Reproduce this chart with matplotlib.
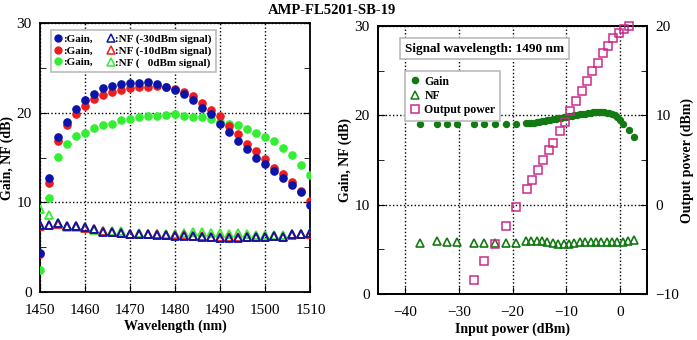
import matplotlib
matplotlib.use("Agg")
import matplotlib.pyplot as plt
from matplotlib.lines import Line2D

plt.rcParams['font.family'] = ['Liberation Serif', 'DejaVu Serif']

# wavelength sweep (nm)
wavelength = [1450, 1452, 1454, 1456, 1458, 1460, 1462, 1464, 1466, 1468, 1470,
              1472, 1474, 1476, 1478, 1480, 1482, 1484, 1486, 1488, 1490,
              1492, 1494, 1496, 1498, 1500, 1502, 1504, 1506, 1508, 1510]

gain_m30 = [4.3, 12.7, 17.3, 19.0, 20.4, 21.4, 22.1, 22.8, 23.0, 23.2, 23.3,
            23.3, 23.4, 23.2, 22.9, 22.6, 22.1, 21.4, 20.6, 19.9, 18.8,
            17.9, 16.9, 16.0, 15.0, 14.3, 13.5, 12.7, 11.9, 11.1, 9.7]
gain_m10 = [4.2, 12.2, 16.8, 18.6, 19.9, 20.8, 21.5, 22.0, 22.3, 22.6, 22.8,
            22.9, 22.9, 23.0, 22.9, 22.7, 22.3, 21.9, 21.1, 20.3, 19.6,
            18.5, 17.6, 16.5, 15.7, 14.8, 13.8, 13.2, 12.3, 11.3, 10.1]
gain_0 = [2.4, 10.5, 15.1, 16.5, 17.4, 17.8, 18.3, 18.6, 18.8, 19.2, 19.3,
          19.5, 19.6, 19.7, 19.8, 19.9, 19.7, 19.5, 19.5, 19.3, 19.0,
          18.8, 18.6, 18.2, 17.7, 17.3, 16.8, 16.1, 15.3, 14.2, 13.1]

nf_m30 = [7.5, 7.5, 7.7, 7.3, 7.3, 7.2, 7.0, 6.7, 6.7, 6.6, 6.4,
          6.5, 6.4, 6.3, 6.3, 6.2, 6.2, 6.2, 6.1, 6.1, 6.0,
          6.0, 6.0, 6.1, 6.1, 6.1, 6.2, 6.1, 6.4, 6.5, 6.6]
nf_m10 = [7.4, 7.5, 7.6, 7.3, 7.3, 7.1, 7.0, 6.8, 6.7, 6.6, 6.5,
          6.5, 6.4, 6.4, 6.3, 6.3, 6.3, 6.2, 6.2, 6.1, 6.1,
          6.1, 6.1, 6.1, 6.1, 6.1, 6.2, 6.1, 6.3, 6.4, 6.5]
nf_0 = [9.2, 8.6, 7.7, 7.2, 7.2, 7.1, 6.9, 6.8, 6.8, 6.8, 6.5,
        6.6, 6.5, 6.4, 6.5, 6.5, 6.6, 6.7, 6.7, 6.6, 6.6,
        6.5, 6.6, 6.5, 6.3, 6.3, 6.3, 6.3, 6.5, 6.5, 6.6]

# input power sweep at 1490 nm (dBm)
pin_gain = [-37.2, -34.1, -32.2, -30.3, -27.2, -25.3, -23.3, -21.3, -19.3,
            -17.5, -17.0, -16.5, -16.0, -15.5, -15.0, -14.5, -14.0, -13.5, -13.0,
            -12.5, -12.0, -11.5, -11.0, -10.5, -10.0, -9.5, -9.0, -8.5, -8.0,
            -7.5, -7.0, -6.5, -6.0, -5.5, -5.0, -4.5, -4.0, -3.5, -3.0,
            -2.5, -2.0, -1.5, -1.0, -0.5, 0.0, 0.6, 1.7, 2.6]
gain_1490 = [19.0, 19.0, 19.0, 19.0, 19.0, 19.0, 19.0, 19.0, 19.0,
             19.1, 19.1, 19.2, 19.2, 19.3, 19.3, 19.4, 19.4, 19.5, 19.5,
             19.6, 19.6, 19.7, 19.7, 19.8, 19.8, 19.9, 19.9, 20.0, 20.0,
             20.1, 20.2, 20.2, 20.3, 20.3, 20.4, 20.4, 20.4, 20.4, 20.4,
             20.3, 20.3, 20.1, 20.0, 19.8, 19.5, 19.0, 18.4, 17.6]

pin_nf = [-37.2, -34.1, -32.2, -30.3, -27.2, -25.3, -23.3, -21.3, -19.3,
          -17.5, -16.5, -15.5, -14.5, -13.5, -12.5, -11.5, -10.5, -9.5, -8.5,
          -7.5, -6.5, -5.5, -4.5, -3.5, -2.5, -1.5, -0.5, 0.5, 1.5, 2.5]
nf_1490 = [5.7, 5.9, 5.8, 5.8, 5.7, 5.7, 5.7, 5.7, 5.7,
           5.9, 5.9, 5.9, 5.9, 5.8, 5.7, 5.6, 5.6, 5.6, 5.7,
           5.8, 5.8, 5.8, 5.8, 5.8, 5.8, 5.8, 5.8, 5.8, 5.9, 6.0]

pin_out = [-27.2, -25.3, -23.3, -21.3, -19.3, -17.3, -16.3, -15.3, -14.3, -13.3,
           -12.4, -11.1, -10.2, -9.3, -8.2, -7.1, -6.2, -5.2, -4.2, -3.2,
           -2.3, -1.3, -0.3, 0.8, 1.7]
pout = [-8.4, -6.3, -4.4, -2.4, -0.3, 1.8, 2.8, 3.9, 5.0, 6.1,
        6.9, 8.2, 9.3, 10.5, 11.6, 12.7, 13.8, 15.0, 15.9, 17.0,
        17.8, 18.7, 19.2, 19.7, 20.0]

blue = '#0a14a8'
red = '#ee1c1c'
green = '#33ee33'
dkgreen = '#137a13'
magenta = '#cc2a8c'

fig = plt.figure(figsize=(6.97, 3.40), dpi=100)
ax1 = fig.add_axes([0.0574, 0.142, 0.388, 0.789])
ax2 = fig.add_axes([0.5423, 0.1353, 0.386, 0.788])

fig.text(0.476, 0.97, 'AMP-FL5201-SB-19', ha='center', va='center',
         fontsize=10.5, fontweight='bold')


def style_axes(ax):
    for s in ax.spines.values():
        s.set_linewidth(1.3)
    ax.grid(True, which='major', color='black', linestyle=(0, (1, 1.6)), linewidth=1.0)
    ax.tick_params(which='both', direction='in', labelsize=11)
    ax.tick_params(which='major', length=5)
    ax.tick_params(which='minor', length=4)


# left panel: gain / NF vs wavelength
dot = dict(marker='o', linestyle='none', markersize=5.2, zorder=3)
tri = dict(marker='^', linestyle='none', markersize=5.5, markerfacecolor='none',
           markeredgewidth=1.3, zorder=4)
ax1.plot(wavelength, gain_0, color=green, **dot)
ax1.plot(wavelength, gain_m10, color=red, **dot)
ax1.plot(wavelength, gain_m30, color=blue, **dot)
ax1.plot(wavelength, nf_0, markeredgecolor=green, **tri)
ax1.plot(wavelength, nf_m10, markeredgecolor=red, **tri)
ax1.plot(wavelength, nf_m30, markeredgecolor=blue, **tri)

ax1.set_xlim(1450, 1510)
ax1.set_ylim(0, 30)
ax1.set_xticks([1450, 1460, 1470, 1480, 1490, 1500, 1510])
ax1.set_yticks([0, 10, 20, 30])
ax1.set_yticks([5, 15, 25], minor=True)
style_axes(ax1)
ax1.yaxis.set_ticks_position('both')
ax1.tick_params(axis='x', pad=9)
ax1.tick_params(axis='y', pad=6)
ax1.set_xlabel('Wavelength (nm)', fontsize=10, fontweight='bold', labelpad=2)
ax1.set_ylabel('Gain, NF (dB)', fontsize=10, fontweight='bold')
ax1.yaxis.set_label_coords(-0.095, 0.5)

handles = [Line2D([], [], color=c, marker='o', linestyle='none', markersize=5)
           for c in (blue, red, green)]
handles += [Line2D([], [], marker='^', linestyle='none', markersize=6,
                   markerfacecolor='none', markeredgecolor=c, markeredgewidth=1.1)
            for c in (blue, red, green)]
labels = [':Gain,', ':Gain,', ':Gain,',
          ':NF (-30dBm signal)', ':NF (-10dBm signal)', ':NF (   0dBm signal)']
leg1 = ax1.legend(handles, labels, ncol=2, loc='upper left',
                  bbox_to_anchor=(0.02, 0.995), fancybox=False, edgecolor='#bbbbbb',
                  framealpha=1, prop={'size': 8, 'weight': 'bold'},
                  handlelength=0.6, handletextpad=0.1, columnspacing=1.4,
                  labelspacing=0.15, borderpad=0.35)
leg1.get_frame().set_linewidth(1.2)

# right panel: gain / NF / output power vs input power
ax2.plot(pin_gain, gain_1490, color=dkgreen, marker='o', linestyle='none',
         markersize=4.3, zorder=3)
ax2.plot(pin_nf, nf_1490, marker='^', linestyle='none', markersize=5.2,
         markerfacecolor='none', markeredgecolor=dkgreen, markeredgewidth=1.2, zorder=3)
ax2.set_xlim(-45, 5)
ax2.set_ylim(0, 30)
ax2.set_xticks([-40, -30, -20, -10, 0])
ax2.set_yticks([0, 10, 20, 30])
ax2.set_yticks([5, 15, 25], minor=True)
style_axes(ax2)
ax2.tick_params(axis='x', pad=9)
ax2.tick_params(axis='y', pad=6)
ax2.set_xlabel('Input power (dBm)', fontsize=10, fontweight='bold', labelpad=2)
ax2.set_ylabel('Gain, NF (dB)', fontsize=10, fontweight='bold')
ax2.yaxis.set_label_coords(-0.098, 0.5)

ax3 = ax2.twinx()
ax3.plot(pin_out, pout, marker='s', linestyle='none', markersize=5.3,
         markerfacecolor='none', markeredgecolor=magenta, markeredgewidth=1.1,
         zorder=4, clip_on=False)
ax3.set_ylim(-10, 20)
ax3.set_yticks([-10, 0, 10, 20])
ax3.set_yticks([-5, 5, 15], minor=True)
ax3.tick_params(which='both', direction='in', labelsize=11, pad=6)
ax3.tick_params(which='major', length=5)
ax3.tick_params(which='minor', length=4)
ax3.set_ylabel('Output power (dBm)', fontsize=10, fontweight='bold')
ax3.yaxis.set_label_coords(1.123, 0.5)
for s in ax3.spines.values():
    s.set_linewidth(1.3)

ax2.text(0.1, 0.915, 'Signal wavelength: 1490 nm', transform=ax2.transAxes,
         fontsize=9.5, fontweight='bold', va='center',
         bbox=dict(boxstyle='square,pad=0.35', facecolor='white',
                   edgecolor='#bbbbbb', linewidth=1.2))

h2 = [Line2D([], [], color=dkgreen, marker='o', linestyle='none', markersize=4.5),
      Line2D([], [], marker='^', linestyle='none', markersize=5.5,
             markerfacecolor='none', markeredgecolor=dkgreen, markeredgewidth=1.1),
      Line2D([], [], marker='s', linestyle='none', markersize=5.5,
             markerfacecolor='none', markeredgecolor=magenta, markeredgewidth=1.1)]
leg2 = ax3.legend(h2, ['Gain', 'NF', 'Output power'], loc='upper left',
                  bbox_to_anchor=(0.08, 0.855), fancybox=False, edgecolor='#bbbbbb',
                  framealpha=1, prop={'size': 8.5, 'weight': 'bold'},
                  handlelength=0.8, handletextpad=0.4, labelspacing=0.2,
                  borderpad=0.4)
leg2.get_frame().set_linewidth(1.2)

fig.savefig('out.png', dpi=100)
